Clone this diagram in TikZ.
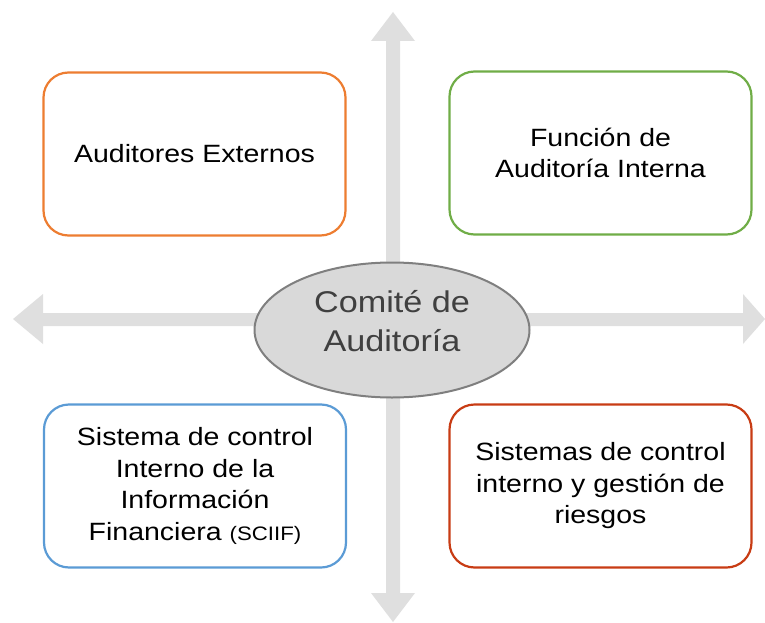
\documentclass[tikz,border=0pt]{standalone}
\usepackage{fontspec}
\setmainfont[FakeStretch=1.14]{Liberation Sans}
\usetikzlibrary{shapes.geometric}
\definecolor{arrowgray}{HTML}{DFDFDF}
\definecolor{ellfill}{HTML}{D9D9D9}
\definecolor{ellline}{HTML}{7F7F7F}
\definecolor{elltext}{HTML}{404040}
\definecolor{borange}{HTML}{ED7D31}
\definecolor{bgreen}{HTML}{70AD47}
\definecolor{bblue}{HTML}{5B9BD5}
\definecolor{bred}{HTML}{C83C14}
\begin{document}
\begin{tikzpicture}[x=1pt,y=-1pt,
  box/.style={draw, line width=2.2pt, rounded corners=25pt, fill=white,
    minimum width=302pt, minimum height=163pt, align=center, inner sep=0pt,
    font=\fontsize{25}{31.5}\selectfont},
  hub/.style={ellipse, draw=ellline, line width=2pt, fill=ellfill,
    minimum width=275pt, minimum height=135pt, inner sep=0pt},
  hubtext/.style={align=center, text=elltext, inner sep=0pt,
    font=\fontsize{30}{39}\selectfont},
  bigarrow/.style={fill=arrowgray}]
\useasboundingbox (0,0) rectangle (765,623);
% vertical double arrow
\fill[bigarrow] (393,12) -- (415,41) -- (400,41) -- (400,593) -- (415,593)
  -- (393,622) -- (371,593) -- (386,593) -- (386,41) -- (371,41) -- cycle;
% horizontal double arrow
\fill[bigarrow] (13,319) -- (43,294) -- (43,313) -- (743,313) -- (743,294)
  -- (765,319) -- (743,344) -- (743,326) -- (43,326) -- (43,344) -- cycle;
\node[box, draw=borange] (ext) at (194.5,154) {Auditores Externos};
\node[box, draw=bgreen] (fai) at (600.5,153) {Función de\\Auditoría Interna};
\node[box, draw=bblue] (sciif) at (195,486) {Sistema de control\\Interno de la\\Información\\Financiera {\fontsize{19.5}{20}\selectfont (SCIIF)}};
\node[box, draw=bred] (scigr) at (600.5,486) {Sistemas de control\\interno y gestión de\\riesgos};
\node[hub] (comite) at (392,330) {};
\node[hubtext] (comitetext) at (392,321.5) {Comité de\\Auditoría};
\end{tikzpicture}
\end{document}
